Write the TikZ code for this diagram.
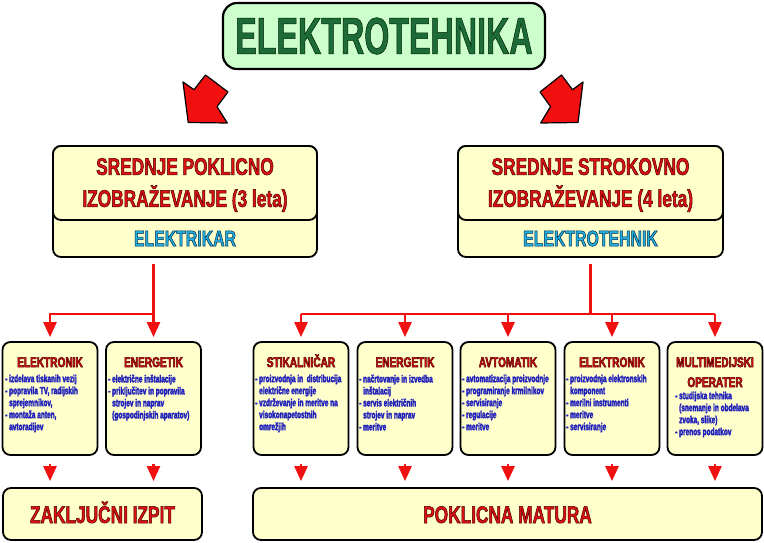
\documentclass[tikz,border=0pt]{standalone}
\usepackage{fontspec}
\setmainfont{Liberation Sans}
\newfontfamily\cf[FakeStretch=0.72]{Liberation Sans}
\newfontfamily\ct[FakeStretch=0.62]{Liberation Sans}
\newfontfamily\ci[FakeStretch=0.63]{Liberation Sans}
\usetikzlibrary{arrows.meta}
\definecolor{ybg}{HTML}{FFFFCC}
\definecolor{gbg}{HTML}{CCFFCC}
\definecolor{gtxt}{HTML}{1E6B3A}
\definecolor{rtxt}{HTML}{DD1111}
\definecolor{btxt}{HTML}{2222BB}
\definecolor{ctxt}{HTML}{22B0E0}
\definecolor{ared}{HTML}{F01010}
\newcommand\outl[2]{\special{pdf:literal #1 RG 2 Tr 0.5 w}#2\special{pdf:literal 0 Tr}}
\newcommand\thick{\special{pdf:literal 0.13 0.13 0.73 RG 2 Tr 0.3 w}}
\newcommand\ind{\hspace*{4pt}}
\begin{document}
\begin{tikzpicture}[x=1pt,y=-1pt,
  ybox/.style={draw=black, line width=1.8pt, fill=ybg, rounded corners=8pt, inner sep=0pt},
  tbox/.style={draw=black, line width=2.2pt, fill=gbg, rounded corners=14pt, inner sep=0pt,
    minimum width=322pt, minimum height=66pt},
  midbox/.style={ybox, minimum width=95pt, minimum height=113pt},
  hdtext/.style={font=\cf\bfseries\fontsize{24}{32}\selectfont, text=rtxt, align=center, inner sep=0pt},
  subtext/.style={font=\cf\bfseries\fontsize{22}{26}\selectfont, text=ctxt, inner sep=0pt},
  boxtitle/.style={font=\cf\bfseries\fontsize{14}{20}\selectfont, text=rtxt, align=center, inner sep=0pt, anchor=base},
  items/.style={font=\ci\bfseries\fontsize{10.3}{12}\selectfont, text=btxt, align=left, inner sep=0pt, anchor=north west},
  endtext/.style={font=\cf\bfseries\fontsize{24}{28}\selectfont, text=rtxt, inner sep=0pt, anchor=base},
  conn/.style={draw=ared, line width=2.6pt, -{Triangle[width=13pt,length=15pt]}},
  blockarrow/.style={fill=ared, draw=black, line width=1.2pt, line join=round}]
\useasboundingbox (0,0) rectangle (764,543);

% title
\node[tbox] (title) at (384,36) {};
\node[font=\ct\bfseries\fontsize{52}{56}\selectfont, text=gtxt, inner sep=0pt] (titletxt) at (384,36) {\outl{0 0.15 0}{ELEKTROTEHNIKA}};

% block arrows
\path[blockarrow] (188.2,122.5) -- (183,82) -- (194,89.7) -- (205.5,75) -- (228,92) -- (217,106.6) -- (227.3,123) -- cycle;
\path[blockarrow] (578,122.5) -- (583,82) -- (572.5,89.7) -- (561.5,75) -- (540,92) -- (550.5,106.6) -- (540.7,123) -- cycle;

% upper boxes
\node[ybox, minimum width=264pt, minimum height=111pt] (spi) at (185,201.5) {};
\node[ybox, minimum width=264pt, minimum height=74pt] (spitop) at (185,183) {};
\node[hdtext] (spitxt) at (185,185) {\outl{0.3 0 0}{SREDNJE POKLICNO}\\\outl{0.3 0 0}{IZOBRAŽEVANJE (3 leta)}};
\node[subtext] (spisub) at (185,238.5) {\outl{0 0.15 0.3}{ELEKTRIKAR}};

\node[ybox, minimum width=265pt, minimum height=111pt] (ssi) at (590.5,201.5) {};
\node[ybox, minimum width=265pt, minimum height=74pt] (ssitop) at (590.5,183) {};
\node[hdtext] (ssitxt) at (590.5,185) {\outl{0.3 0 0}{SREDNJE STROKOVNO}\\\outl{0.3 0 0}{IZOBRAŽEVANJE (4 leta)}};
\node[subtext] (ssisub) at (590.5,238.5) {\outl{0 0.15 0.3}{ELEKTROTEHNIK}};

% middle boxes
\node[midbox] (e1) at (50,398.5) {};
\node[midbox] (e2) at (153.5,398.5) {};
\node[midbox] (m1) at (301,398.5) {};
\node[midbox] (m2) at (405,398.5) {};
\node[midbox] (m3) at (508,398.5) {};
\node[midbox] (m4) at (612,398.5) {};
\node[midbox] (m5) at (715,398.5) {};

\node[boxtitle] (e1t) at (50,367) {\outl{0.35 0 0}{ELEKTRONIK}};
\node[boxtitle] (e2t) at (153.5,367) {\outl{0.35 0 0}{ENERGETIK}};
\node[boxtitle] (m1t) at (301,367) {\outl{0.35 0 0}{STIKALNIČAR}};
\node[boxtitle] (m2t) at (405,367) {\outl{0.35 0 0}{ENERGETIK}};
\node[boxtitle] (m3t) at (508,367) {\outl{0.35 0 0}{AVTOMATIK}};
\node[boxtitle] (m4t) at (612,367) {\outl{0.35 0 0}{ELEKTRONIK}};
\node[boxtitle] (m5t) at (715,387) {\outl{0.35 0 0}{MULTIMEDIJSKI}\\\outl{0.35 0 0}{OPERATER}};

\node[items] (e1i) at (5,374.5) {\thick- izdelava tiskanih vezij\\\thick- popravila TV, radijskih\\\thick\ind sprejemnikov,\\\thick- montaža anten,\\\thick\ind avtoradijev};
\node[items] (e2i) at (108,374.5) {\thick- električne inštalacije\\\thick- priključitev in popravila\\\thick\ind strojev in naprav\\\thick\ind (gospodinjskih aparatov)};
\node[items] (m1i) at (255,374.5) {\thick- proizvodnja in\ \ distribucija\\\thick\ind električne energije\\\thick- vzdrževanje in meritve na\\\thick\ind visokonapetostnih\\\thick\ind omrežjih};
\node[items] (m2i) at (359,374.5) {\thick- načrtovanje in izvedba\\\thick\ind inštalacij\\\thick- servis električnih\\\thick\ind strojev in naprav\\\thick- meritve};
\node[items] (m3i) at (462,374.5) {\thick- avtomatizacija proizvodnje\\\thick- programiranje krmilnikov\\\thick- servisiranje\\\thick- regulacije\\\thick- meritve};
\node[items] (m4i) at (566,374.5) {\thick- proizvodnja elektronskih\\\thick\ind komponent\\\thick- merilni instrumenti\\\thick- meritve\\\thick- servisiranje};
\node[items] (m5i) at (675,391.5) {\thick- studijska tehnika\\\thick\ind (snemanje in obdelava\\\thick\ind zvoka, slike)\\\thick- prenos podatkov};

% bottom boxes
\node[ybox, minimum width=199pt, minimum height=52pt] (zi) at (102.5,514) {};
\node[ybox, minimum width=509pt, minimum height=52pt] (pm) at (507.5,514) {};
\node[endtext] (zit) at (102.5,523) {\outl{0.3 0 0}{ZAKLJUČNI IZPIT}};
\node[endtext] (pmt) at (507.5,523) {\outl{0.3 0 0}{POKLICNA MATURA}};

% connectors
\coordinate (jl) at (153.5,314);
\coordinate (jr) at (590.5,314);
\draw[conn, shorten <=6pt, shorten >=4pt] (spi.south -| e2.north) -- (e2.north);
\draw[conn, shorten >=4pt] (jl) -| (e1.north);
\draw[draw=ared, line width=2.6pt, shorten <=6pt] (ssi.south) -- (jr);
\draw[draw=ared, line width=2.6pt] (m1.north |- jr) -- (m5.north |- jr);
\foreach \n in {m1,m2,m3,m4,m5}{
  \draw[conn, shorten >=4pt] (\n.north |- jr) -- (\n.north);
}
\foreach \n in {e1,e2}{
  \draw[conn, shorten <=8pt, shorten >=6pt] (\n.south) -- (\n.south |- zi.north);
}
\foreach \n in {m1,m2,m3,m4,m5}{
  \draw[conn, shorten <=8pt, shorten >=6pt] (\n.south) -- (\n.south |- pm.north);
}
\end{tikzpicture}
\end{document}
